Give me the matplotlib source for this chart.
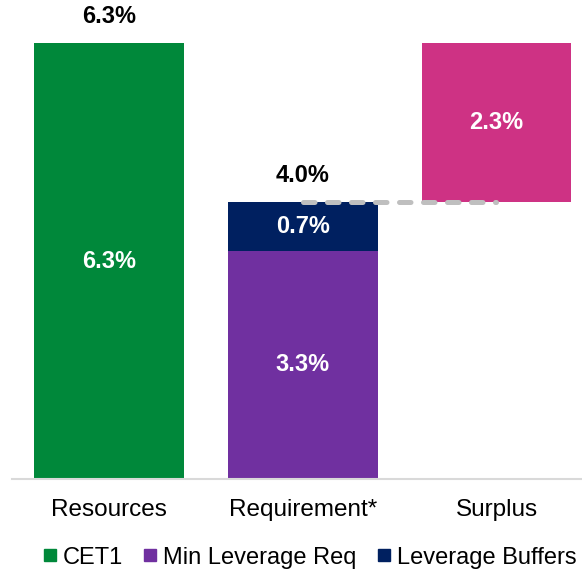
import numpy as np
import matplotlib.pyplot as plt
from matplotlib.lines import Line2D

plt.rcParams['font.family'] = ['Liberation Sans', 'DejaVu Sans']

# leverage ratio waterfall (% of exposure)
categories = ["Resources", "Requirement*", "Surplus"]
cet1 = 6.3
min_lev_req = 3.3
lev_buffers = 0.7
surplus = 2.3
requirement_total = 4.0

green = "#00883A"
purple = "#7030A0"
navy = "#002060"
magenta = "#CE3284"

fig = plt.figure(figsize=(5.82, 5.69), dpi=100)
ax = fig.add_axes([0.0206, 0.158, 0.979, 0.766])

x = np.arange(len(categories))
w = 0.773

# stacked bars
ax.bar(x[0], cet1, w, color=green)
ax.bar(x[1], min_lev_req, w, color=purple)
ax.bar(x[1], lev_buffers, w, bottom=min_lev_req, color=navy)
ax.bar(x[2], surplus, w, bottom=requirement_total, color=magenta)

# connector between requirement and surplus
ax.plot([x[1], x[2]], [requirement_total, requirement_total], color="#BFBFBF",
        lw=3.6, linestyle=(0, (2.3, 2.5)), dash_capstyle="round", zorder=3)

lab = dict(fontsize=17, fontweight="bold", ha="center", va="center")
ax.text(x[0], cet1 / 2, f"{cet1:.1f}%", color="white", **lab)
ax.text(x[1], min_lev_req / 2, f"{min_lev_req:.1f}%", color="white", **lab)
ax.text(x[1], min_lev_req + lev_buffers / 2, f"{lev_buffers:.1f}%", color="white", **lab)
ax.text(x[2], requirement_total + surplus / 2, f"{surplus:.1f}%", color="white", **lab)

# totals above the bars
ax.annotate(f"{cet1:.1f}%", (x[0], cet1), xytext=(0, 19), textcoords="offset points",
            color="black", clip_on=False, **lab)
ax.annotate(f"{requirement_total:.1f}%", (x[1], min_lev_req + lev_buffers), xytext=(0, 19),
            textcoords="offset points", color="black", **lab)

ax.set_xlim(-0.5, 2.44)
ax.set_ylim(0, 6.3)
ax.set_xticks(x)
ax.set_xticklabels(categories, fontsize=17.5)
ax.set_yticks([])
ax.tick_params(axis="x", length=0, pad=14)
for s in ["top", "right", "left"]:
    ax.spines[s].set_visible(False)
ax.spines["bottom"].set_color("#D9D9D9")
ax.spines["bottom"].set_linewidth(1.5)

handles = [Line2D([], [], marker="s", ls="", color=c, markersize=9)
           for c in [green, purple, navy]]
fig.legend(handles, ["CET1", "Min Leverage Req", "Leverage Buffers"], loc="center",
           bbox_to_anchor=(0.532, 0.02), ncol=3, frameon=False, fontsize=17,
           handlelength=0.6, handletextpad=0.25, columnspacing=0.85,
           borderpad=0, borderaxespad=0)

fig.savefig("out.png", dpi=100)
